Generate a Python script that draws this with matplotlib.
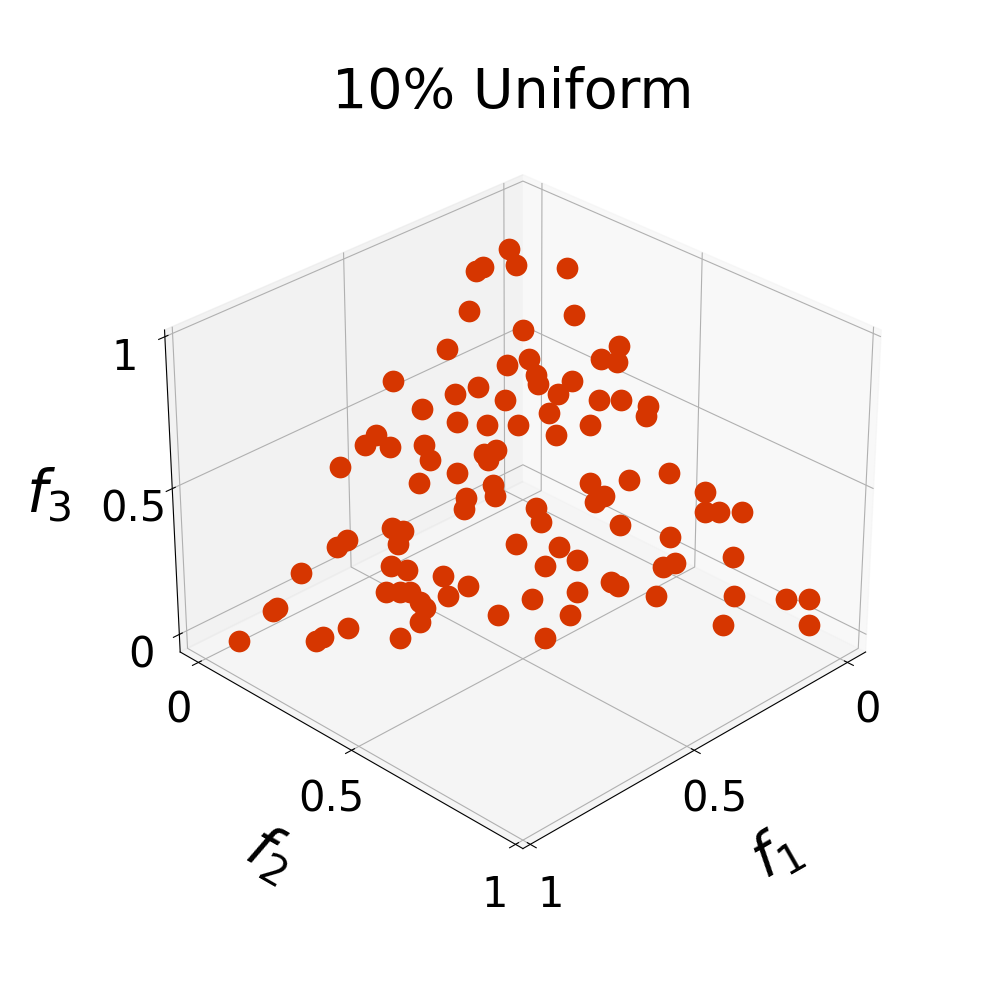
import matplotlib
matplotlib.use("Agg")
import matplotlib.pyplot as plt

f1 = [.082,.089,.144,.160,.217,.152,.295,.175,.217,.182,.189,.417,.288,.333,.260,.402,.204,.361,.317,.267,
      .010,.053,.016,.060,.038,.131,.168,.110,.075,.039,.053,.153,.218,
      .597,.533,.504,.496,.439,.446,.418,.489,.354,.330,.354,.374,.383,.432,.447,.582,.568,.590,.666,.690,.404,.625,.604,.775,.554,.526,.568,.662,.640,.624,.619,.618,.641,.510,.851,.860,.946,.761,.810,.825,.690,
      .218,.153,.081,.211,.232,.046,.069,.046,.010,.332,.339,.218,.152,.339,.325,.382,.075,.173,.197,.296,.289,.361,.439,.240,.117,.039,.003,.397,.167,.032,.462]
f2 = [.037,.066,.016,.009,.044,.152,.052,.195,.166,.224,.237,.002,.145,.116,.203,.081,.287,.151,.202,.252,
      .152,.217,.324,.310,.339,.288,.280,.353,.388,.437,.445,.366,.323,
      .016,.031,.037,.073,.125,.151,.209,.160,.230,.245,.243,.279,.295,.251,.260,.168,.188,.195,.110,.102,.382,.209,.238,.074,.302,.353,.332,.230,.252,.268,.295,.309,.317,.432,.076,.073,.053,.210,.181,.174,.303,
      .431,.490,.545,.468,.460,.623,.645,.668,.704,.373,.397,.525,.618,.453,.496,.452,.739,.654,.639,.574,.589,.531,.468,.660,.783,.868,.905,.545,.797,.933,.531]
f3 = [.881,.845,.840,.831,.739,.696,.653,.630,.617,.594,.574,.581,.567,.551,.537,.517,.509,.488,.481,.481,
      .838,.730,.660,.630,.623,.581,.552,.537,.537,.524,.502,.481,.459,
      .387,.436,.459,.431,.436,.403,.373,.351,.416,.425,.403,.347,.322,.317,.293,.250,.244,.215,.224,.208,.214,.166,.158,.151,.144,.121,.100,.108,.108,.108,.086,.073,.042,.058,.073,.067,.001,.029,.009,.001,.007,
      .351,.357,.374,.321,.308,.331,.286,.286,.286,.295,.264,.257,.230,.208,.179,.166,.186,.173,.164,.130,.122,.108,.093,.100,.100,.093,.092,.058,.036,.035,.007]
TICKS = [0, 0.5, 1]
TICK_LABELS = ["0", "0.5", "1"]

fig = plt.figure(figsize=(10, 10), dpi=100)
ax = fig.add_subplot(projection="3d")
ax.view_init(elev=30, azim=45)
ax.set_xlim(-0.0617, 1.0217)
ax.set_ylim(-0.0617, 1.0217)
ax.set_zlim(-0.0617, 1.0217)

ax.scatter(f1, f2, f3, s=245, c="#d63600", linewidths=0, depthshade=False)

ax.set_xticks(TICKS, TICK_LABELS)
ax.set_yticks(TICKS, TICK_LABELS)
ax.set_zticks(TICKS, TICK_LABELS)
ax.tick_params(labelsize=30)
ax.tick_params(axis="x", pad=8)
ax.tick_params(axis="y", pad=8)
ax.tick_params(axis="z", pad=8)

ax.set_title("10% Uniform", fontsize=40)
ax.set_xlabel("$f_1$", fontsize=42, labelpad=39)
ax.set_ylabel("$f_2$", fontsize=42, labelpad=39)
ax.zaxis.set_rotate_label(False)
ax.set_zlabel("$f_3$", fontsize=42, labelpad=30, rotation=0)

fig.savefig("out.png", dpi=100)
